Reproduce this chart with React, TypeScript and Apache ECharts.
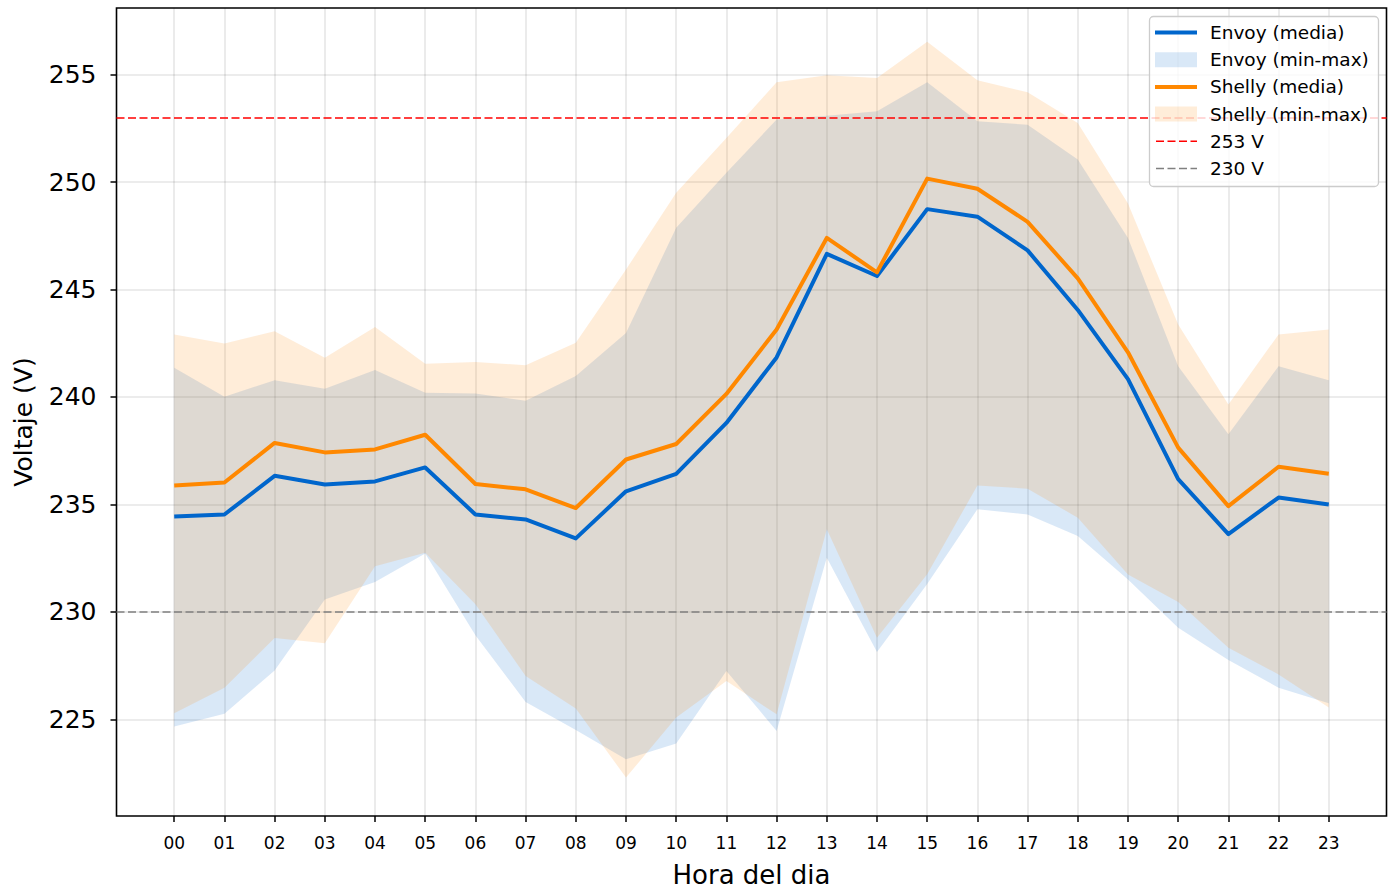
import React, { useEffect, useRef } from "react";
import * as echarts from "echarts";

const hours = ["00","01","02","03","04","05","06","07","08","09","10","11","12","13","14","15","16","17","18","19","20","21","22","23"];

const envoyMean = [234.44, 234.53, 236.33, 235.93, 236.07, 236.72, 234.53, 234.3, 233.42, 235.61, 236.42, 238.79, 241.84, 246.66, 245.63, 248.74, 248.39, 246.82, 244.05, 240.83, 236.18, 233.62, 235.32, 235.0];
const shellyMean = [235.88, 236.02, 237.86, 237.42, 237.56, 238.24, 235.95, 235.7, 234.83, 237.09, 237.81, 240.14, 243.14, 247.4, 245.8, 250.16, 249.69, 248.15, 245.52, 242.08, 237.64, 234.92, 236.75, 236.43];

const envoyMin = [224.66, 225.26, 227.27, 230.58, 231.39, 232.72, 228.91, 225.81, 224.5, 223.14, 223.87, 227.25, 224.46, 232.52, 228.13, 231.3, 234.77, 234.53, 233.53, 231.51, 229.26, 227.76, 226.47, 225.75];
const envoyMax = [241.36, 240.01, 240.78, 240.38, 241.25, 240.19, 240.16, 239.82, 240.97, 242.98, 247.87, 250.43, 252.91, 253.09, 253.29, 254.64, 252.83, 252.67, 251.05, 247.4, 241.43, 238.26, 241.43, 240.78];
const shellyMin = [225.28, 226.47, 228.78, 228.54, 232.12, 232.75, 230.35, 227.02, 225.5, 222.29, 225.08, 226.78, 225.23, 233.84, 228.8, 231.75, 235.88, 235.73, 234.38, 231.74, 230.46, 228.33, 227.09, 225.55];
const shellyMax = [242.91, 242.49, 243.06, 241.82, 243.25, 241.54, 241.63, 241.48, 242.52, 245.93, 249.5, 252.05, 254.64, 254.97, 254.84, 256.53, 254.74, 254.18, 252.75, 249.0, 243.37, 239.65, 242.91, 243.14];

const yTicks = [225, 230, 235, 240, 245, 250, 255];
const refLines = [
  { value: 253, label: "253 V", color: "#ff0000" },
  { value: 230, label: "230 V", color: "#808080" },
];

const BLUE = "#0066cc";
const ORANGE = "#ff8800";
const BLUE_FILL = "rgba(0,102,204,0.15)";
const ORANGE_FILL = "rgba(255,136,0,0.15)";
const FONT = "DejaVu Sans";
const LW = 4;

function bandSeries(name: string, mins: number[], maxs: number[], fill: string) {
  return {
    type: "custom",
    name,
    silent: true,
    z: 1,
    data: hours.map((_, i) => [i, mins[i], maxs[i]]),
    encode: { x: 0, y: [1, 2] },
    renderItem: (params: any, api: any) => {
      if (params.dataIndex !== 0) return { type: "group", children: [] };
      const upper = maxs.map((v, i) => api.coord([i, v]));
      const lower = mins.map((v, i) => api.coord([i, v])).reverse();
      return {
        type: "polygon",
        silent: true,
        shape: { points: upper.concat(lower) },
        style: { fill, stroke: "none" },
      };
    },
  };
}

function lineSeries(name: string, values: number[], color: string, extra: any = {}) {
  return {
    type: "line",
    name,
    data: values.map((v, i) => [i, v]),
    symbol: "none",
    silent: true,
    z: 3,
    lineStyle: { color, width: LW, cap: "butt", join: "round" },
    itemStyle: { color },
    ...extra,
  };
}

const legendItems = [
  { label: "Envoy (media)", kind: "line", color: BLUE },
  { label: "Envoy (min-max)", kind: "patch", color: BLUE_FILL },
  { label: "Shelly (media)", kind: "line", color: ORANGE },
  { label: "Shelly (min-max)", kind: "patch", color: ORANGE_FILL },
  { label: refLines[0].label, kind: "dash", color: refLines[0].color },
  { label: refLines[1].label, kind: "dash", color: refLines[1].color },
];

function buildLegend() {
  const Z = 100;
  const els: any[] = [
    {
      type: "rect",
      z: Z,
      shape: { x: 1149.5, y: 16.5, width: 229, height: 170, r: 4 },
      style: { fill: "rgba(255,255,255,0.8)", stroke: "#cccccc", lineWidth: 1.3 },
    },
  ];
  legendItems.forEach((it, i) => {
    const cy = 32.5 + i * 27.2;
    if (it.kind === "line") {
      els.push({
        type: "line",
        z: Z + 1,
        shape: { x1: 1155, y1: cy, x2: 1197, y2: cy },
        style: { stroke: it.color, lineWidth: LW },
      });
    } else if (it.kind === "patch") {
      els.push({
        type: "rect",
        z: Z + 1,
        shape: { x: 1155, y: cy - 7.5, width: 42, height: 15 },
        style: { fill: it.color },
      });
    } else {
      els.push({
        type: "line",
        z: Z + 1,
        shape: { x1: 1156, y1: cy, x2: 1197, y2: cy },
        style: { stroke: it.color, lineWidth: 1.6, lineDash: [8, 3.5] },
      });
    }
    els.push({
      type: "text",
      z: Z + 1,
      x: 1210,
      y: cy,
      style: {
        text: it.label,
        fill: "#000",
        fontSize: 18.5,
        fontFamily: FONT,
        verticalAlign: "middle",
        align: "left",
      },
    });
  });
  return els;
}

export default function App() {
  const ref = useRef<HTMLDivElement>(null);
  useEffect(() => {
    const chart = echarts.init(ref.current as HTMLDivElement, null, { renderer: "svg" });
    const option: any = {
      animation: false,
      backgroundColor: "#ffffff",
      textStyle: { fontFamily: FONT },
      grid: {
        left: 116.5,
        top: 8,
        width: 1270,
        height: 808,
        show: true,
        borderColor: "#000",
        borderWidth: 1.6,
        backgroundColor: "transparent",
      },
      xAxis: {
        type: "value",
        min: -1.15,
        max: 24.15,
        axisLine: { show: false, onZero: false },
        axisTick: {
          show: true,
          customValues: hours.map((_, i) => i),
          length: 6,
          lineStyle: { color: "#000", width: 1.5 },
        },
        axisLabel: {
          customValues: hours.map((_, i) => i),
          formatter: (v: number) => hours[Math.round(v)] ?? "",
          fontSize: 17,
          color: "#000",
          fontFamily: FONT,
          margin: 18,
        },
        splitLine: { show: true, lineStyle: { color: "rgba(0,0,0,0.1)", width: 1.6 } },
      },
      yAxis: {
        type: "value",
        min: 220.5,
        max: 258.1,
        axisLine: { show: false, onZero: false },
        axisTick: {
          show: true,
          customValues: yTicks,
          length: 6,
          lineStyle: { color: "#000", width: 1.5 },
        },
        axisLabel: {
          customValues: yTicks,
          fontSize: 25,
          color: "#000",
          fontFamily: FONT,
          margin: 20,
        },
        splitLine: { show: true, lineStyle: { color: "rgba(0,0,0,0.1)", width: 1.6 } },
      },
      series: [
        bandSeries("Envoy (min-max)", envoyMin, envoyMax, BLUE_FILL),
        bandSeries("Shelly (min-max)", shellyMin, shellyMax, ORANGE_FILL),
        lineSeries("Envoy (media)", envoyMean, BLUE),
        lineSeries("Shelly (media)", shellyMean, ORANGE, {
          markLine: {
            silent: true,
            symbol: "none",
            label: { show: false },
            data: refLines.map((r) => ({
              yAxis: r.value,
              lineStyle: { color: r.color, type: [8, 3.5], width: 1.6 },
            })),
          },
        }),
      ],
      graphic: {
        elements: [
          {
            type: "text",
            x: 751.5,
            y: 875,
            z: 100,
            style: {
              text: "Hora del dia",
              fill: "#000",
              fontSize: 26,
              fontFamily: FONT,
              align: "center",
              verticalAlign: "middle",
            },
          },
          {
            type: "text",
            x: 23,
            y: 422,
            z: 100,
            rotation: Math.PI / 2,
            style: {
              text: "Voltaje (V)",
              fill: "#000",
              fontSize: 25,
              fontFamily: FONT,
              align: "center",
              verticalAlign: "middle",
            },
          },
          ...buildLegend(),
        ],
      },
    };
    chart.setOption(option);
    return () => chart.dispose();
  }, []);
  return (
    <div
      ref={ref}
      style={{ position: "fixed", left: 0, top: 0, width: 1393, height: 890, background: "#fff" }}
    />
  );
}
